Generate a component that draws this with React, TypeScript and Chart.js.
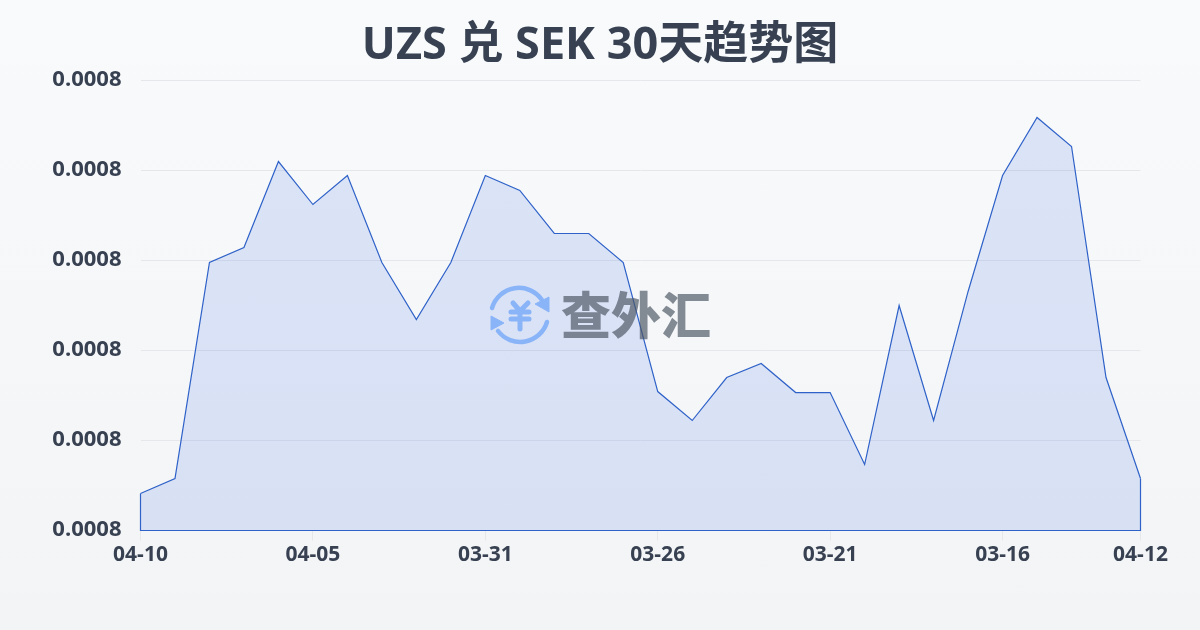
import React, { useEffect, useRef } from "react";
import { Chart, registerables } from "chart.js";

Chart.register(...registerables);

const categories = [
  "04-10", "04-09", "04-08", "04-07", "04-06", "04-05", "04-04", "04-03", "04-02", "04-01",
  "03-31", "03-30", "03-29", "03-28", "03-27", "03-26", "03-25", "03-24", "03-23", "03-22",
  "03-21", "03-20", "03-19", "03-18", "03-17", "03-16", "03-15", "03-14", "03-13", "04-12",
];
const rates = [
  0.00078411, 0.00078578, 0.00080978, 0.00081144, 0.000821, 0.00081622, 0.00081944, 0.00080978, 0.00080344, 0.00080978,
  0.00081944, 0.00081778, 0.000813, 0.000813, 0.00080978, 0.00079544, 0.00079222, 0.000797, 0.00079856, 0.00079533,
  0.00079533, 0.00078733, 0.000805, 0.00079222, 0.00080656, 0.00081944, 0.00082589, 0.00082267, 0.000797, 0.00078578,
];
const shownTickIndices = [0, 5, 10, 15, 20, 25, 29];
const axisMin = 0.00078;
const axisMax = 0.00083;
const axisStep = 0.00001;
const titleText = "UZS 兑 SEK 30天趋势图";
const brandText = "查外汇";

const LINE = "#2f62c8";
const INK = "#374151";
const ICON = "#8ab4f8";

const closeArea = {
  id: "closeArea",
  afterDatasetsDraw(chart: any) {
    const pts = chart.getDatasetMeta(0).data;
    const base = chart.scales.y.getPixelForValue(axisMin);
    const a = pts[0];
    const b = pts[pts.length - 1];
    const ctx = chart.ctx;
    ctx.save();
    ctx.strokeStyle = LINE;
    ctx.lineWidth = 1.2;
    ctx.beginPath();
    ctx.moveTo(a.x, a.y);
    ctx.lineTo(a.x, base);
    ctx.lineTo(b.x, base);
    ctx.lineTo(b.x, b.y);
    ctx.stroke();
    ctx.restore();
  },
};

export default function App() {
  const ref = useRef<HTMLCanvasElement>(null);
  useEffect(() => {
    const chart = new Chart(ref.current!, {
      type: "line",
      data: {
        labels: categories,
        datasets: [
          {
            data: rates,
            borderColor: LINE,
            borderWidth: 1.2,
            backgroundColor: "rgba(59,110,225,0.15)",
            fill: "origin",
            pointRadius: 0,
            tension: 0,
          },
        ],
      },
      options: {
        animation: false,
        responsive: false,
        layout: { padding: 0 },
        plugins: {
          legend: { display: false },
          tooltip: { enabled: false },
          title: {
            display: true,
            text: titleText,
            color: INK,
            font: { family: "'Open Sans','Noto Sans CJK SC',sans-serif", size: 45, weight: "bold", lineHeight: 1.2 },
            padding: { top: 19, bottom: 7.5 },
          },
        },
        scales: {
          x: {
            offset: false,
            border: { display: false },
            grid: { drawOnChartArea: false, drawTicks: true, tickLength: 10, color: "#e5e7eb" },
            afterBuildTicks(scale: any) {
              scale.ticks = scale.ticks.filter((t: any) => shownTickIndices.includes(t.value));
            },
            afterFit(scale: any) {
              scale.height = 99.5;
            },
            ticks: {
              autoSkip: false,
              maxRotation: 0,
              minRotation: 0,
              padding: 2,
              color: INK,
              font: { family: "'Open Sans',sans-serif", size: 21, weight: "bold" },
            },
          },
          y: {
            min: axisMin,
            max: axisMax,
            border: { display: false },
            grid: { color: "#e5e7eb", lineWidth: 1, drawTicks: false },
            afterFit(scale: any) {
              scale.width = 140.5;
            },
            ticks: {
              stepSize: axisStep,
              padding: 19,
              labelOffset: -1,
              color: INK,
              font: { family: "'Open Sans',sans-serif", size: 22, weight: "bold" },
              callback: (v: any) => Number(v).toFixed(4),
            },
          },
          rightGutter: {
            type: "linear",
            position: "right",
            display: true,
            border: { display: false },
            grid: { display: false, drawTicks: false },
            ticks: { display: false },
            afterFit(scale: any) {
              scale.width = 59.5;
            },
          },
        },
      },
      plugins: [closeArea],
    });
    return () => chart.destroy();
  }, []);
  return (
    <div
      style={{
        position: "fixed",
        left: 0,
        top: 0,
        width: 1200,
        height: 630,
        background: "linear-gradient(180deg,#f8fafc 0%,#f3f4f6 100%)",
        overflow: "hidden",
      }}
    >
      <canvas ref={ref} width={1200} height={630} style={{ display: "block" }} />
      <svg width={70} height={70} viewBox="0 0 70 70" style={{ position: "absolute", left: 485, top: 280 }}>
        <g fill="none" stroke={ICON} strokeWidth={4.5} strokeLinecap="round" strokeLinejoin="round">
          <path d="M7 28 A28 28 0 0 1 57 20" />
          <path d="M62 42 A28 28 0 0 1 13 51" />
          <path d="M28 23 L35 31 L43 23 M35 31 V49 M26 32 H44 M26 39 H44" strokeWidth={5} />
        </g>
        <path d="M64 17 L64 32 L50 24 Z" fill={ICON} stroke={ICON} strokeWidth={1} strokeLinejoin="round" />
        <path d="M6 36 L6 50 L19 43 Z" fill={ICON} stroke={ICON} strokeWidth={1} strokeLinejoin="round" />
      </svg>
      <div
        style={{
          position: "absolute",
          left: 561,
          top: 277,
          width: 152,
          fontFamily: "'Noto Sans CJK SC',sans-serif",
          fontWeight: 900,
          fontSize: 50,
          lineHeight: "70px",
          color: "rgba(75,85,99,0.68)",
          whiteSpace: "nowrap",
        }}
      >
        {brandText}
      </div>
    </div>
  );
}
